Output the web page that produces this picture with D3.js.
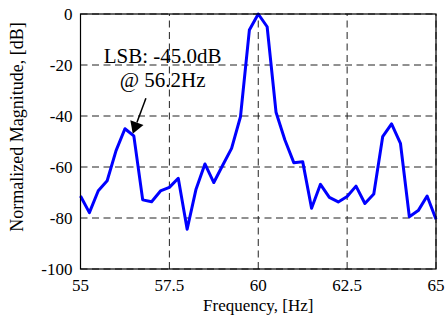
<!DOCTYPE html>
<html>
<head>
<meta charset="utf-8">
<script src="https://cdn.jsdelivr.net/npm/d3@7"></script>
<style>
  body { margin: 0; background: #fff; }
  text { font-family: "Liberation Serif", "Times New Roman", serif; fill: #000; }
</style>
</head>
<body>
<div id="chart"></div>
<script>
// frequency axis samples (Hz) and normalized magnitude (dB)
const freqs = d3.range(0, 41).map(i => 55 + i * 0.25);
const magnitude = [
  -71.4, -77.9, -69.3, -65.4, -53.6, -45.0, -47.8, -72.9, -73.6, -69.4,
  -68.0, -64.4, -84.4, -68.7, -58.8, -66.1, -59.3, -52.7, -40.3, -6.3,
  0.0, -5.0, -38.5, -49.4, -58.3, -57.9, -76.2, -66.8, -71.9, -73.7,
  -71.6, -67.5, -74.3, -70.6, -48.1, -43.1, -50.7, -79.5, -77.1, -71.4,
  -80.5
];
const xTicks = [55, 57.5, 60, 62.5, 65];
const yTicks = [0, -20, -40, -60, -80, -100];
const noteLines = ["LSB: -45.0dB", "@ 56.2Hz"];

const W = 447, H = 320;
const margin = { left: 80.5, right: 11, top: 14, bottom: 51 };

const svg = d3.select("#chart").append("svg")
  .attr("width", W).attr("height", H);

const x = d3.scaleLinear().domain([55, 65]).range([margin.left, W - margin.right]);
const y = d3.scaleLinear().domain([-100, 0]).range([H - margin.bottom, margin.top]);

// grid lines (dashed)
const grid = svg.append("g")
  .attr("stroke", "#222")
  .attr("stroke-width", 1)
  .attr("stroke-dasharray", "7,4.5");
grid.selectAll("line.gx").data(xTicks).enter().append("line")
  .attr("x1", d => x(d)).attr("x2", d => x(d))
  .attr("y1", y(-100)).attr("y2", y(0));
grid.selectAll("line.gy").data(yTicks).enter().append("line")
  .attr("x1", x(55)).attr("x2", x(65))
  .attr("y1", d => y(d)).attr("y2", d => y(d));

// tick labels
svg.append("g").selectAll("text").data(xTicks).enter().append("text")
  .attr("x", d => x(d)).attr("y", y(-100) + 22)
  .attr("text-anchor", "middle")
  .style("font-size", "17px")
  .text(d => d);

svg.append("g").selectAll("text").data(yTicks).enter().append("text")
  .attr("x", x(55) - 8).attr("y", d => y(d))
  .attr("dy", "0.35em")
  .attr("text-anchor", "end")
  .style("font-size", "17px")
  .text(d => d);

// data line
const line = d3.line()
  .x((d, i) => x(freqs[i]))
  .y(d => y(d));

svg.append("path")
  .datum(magnitude)
  .attr("fill", "none")
  .attr("stroke", "#0000ff")
  .attr("stroke-width", 3)
  .attr("stroke-linejoin", "round")
  .attr("d", line);

// frame
svg.append("rect")
  .attr("x", x(55)).attr("y", y(0))
  .attr("width", x(65) - x(55)).attr("height", y(-100) - y(0))
  .attr("fill", "none")
  .attr("stroke", "#000")
  .attr("stroke-width", 1.2);

// annotation
const note = svg.append("g");
note.selectAll("text").data(noteLines).enter().append("text")
  .attr("x", x(57.31))
  .attr("y", (d, i) => y(-19.3) + i * 24)
  .attr("text-anchor", "middle")
  .style("font-size", "21px")
  .text(d => d);

const tail = [x(56.84), y(-33.0)], tip = [x(56.47), y(-47)];
const ang = Math.atan2(tip[1] - tail[1], tip[0] - tail[0]);
const headLen = 12, headW = 7;
const base = [tip[0] - headLen * Math.cos(ang), tip[1] - headLen * Math.sin(ang)];
note.append("line")
  .attr("x1", tail[0]).attr("y1", tail[1])
  .attr("x2", base[0]).attr("y2", base[1])
  .attr("stroke", "#000").attr("stroke-width", 1.5);
note.append("path")
  .attr("d", d3.line()([
    tip,
    [base[0] + headW * Math.sin(ang), base[1] - headW * Math.cos(ang)],
    [base[0] - headW * Math.sin(ang), base[1] + headW * Math.cos(ang)]
  ]) + "Z")
  .attr("fill", "#000");

// axis titles
svg.append("text")
  .attr("x", (x(55) + x(65)) / 2).attr("y", H - 9)
  .attr("text-anchor", "middle")
  .style("font-size", "17px")
  .text("Frequency, [Hz]");

svg.append("text")
  .attr("transform", `translate(23, ${127}) rotate(-90)`)
  .attr("text-anchor", "middle")
  .style("font-size", "18px")
  .text("Normalized Magnitude, [dB]");
</script>
</body>
</html>
